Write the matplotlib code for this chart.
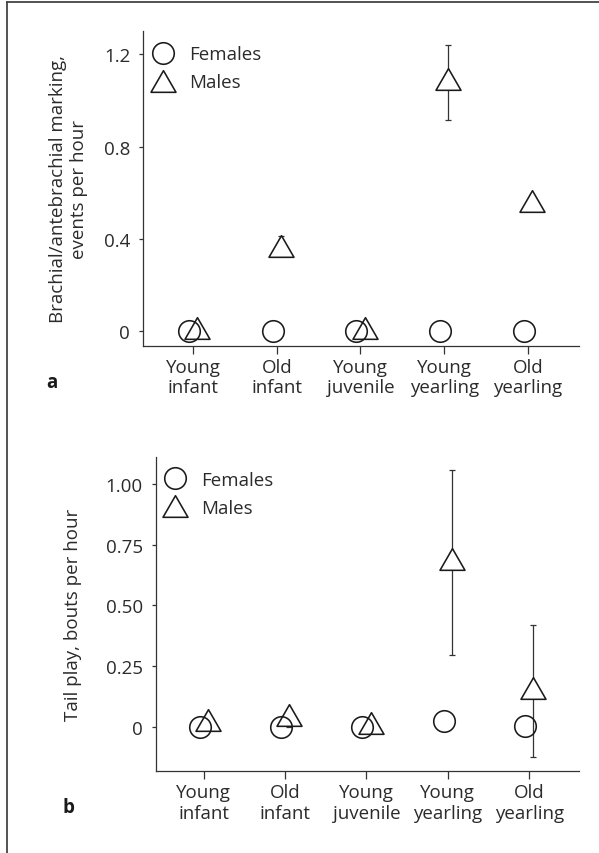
import matplotlib
matplotlib.use("Agg")
import matplotlib.pyplot as plt
from matplotlib.path import Path
from matplotlib.lines import Line2D

plt.rcParams['font.family'] = ['Open Sans', 'DejaVu Sans']
plt.rcParams['font.size'] = 13.5
plt.rcParams['text.color'] = '#2b2b2b'
plt.rcParams['axes.labelcolor'] = '#2b2b2b'
plt.rcParams['xtick.color'] = '#333333'
plt.rcParams['ytick.color'] = '#333333'
plt.rcParams['xtick.labelcolor'] = '#2b2b2b'
plt.rcParams['ytick.labelcolor'] = '#2b2b2b'

# data
groups = ['Young\ninfant', 'Old\ninfant', 'Young\njuvenile', 'Young\nyearling', 'Old\nyearling']

# panel a: brachial/antebrachial marking
a_females = [0, 0, 0, 0, 0]
a_males = [0.016, 0.372, 0.016, 1.092, 0.565]
a_males_lo = [0, 0.045, 0, 0.177, 0]
a_males_hi = [0, 0.04, 0, 0.147, 0]

# panel b: tail play
b_females = [0, 0, 0, 0.026, 0.005]
b_males = [0.027, 0.051, 0.016, 0.690, 0.161]
b_males_lo = [0, 0.05, 0, 0.392, 0.286]
b_males_hi = [0, 0, 0, 0.366, 0.260]

a_yticks = [0, 0.4, 0.8, 1.2]
a_yticklabels = ['0', '0.4', '0.8', '1.2']
b_yticks = [0, 0.25, 0.5, 0.75, 1.0]
b_yticklabels = ['0', '0.25', '0.50', '0.75', '1.00']

W, H = 599, 854
fig = plt.figure(figsize=(W / 100, H / 100), dpi=100)

# equilateral triangle marker
tri = Path([(-1, -0.866), (1, -0.866), (0, 0.866), (-1, -0.866)],
           [Path.MOVETO, Path.LINETO, Path.LINETO, Path.CLOSEPOLY])

ink = '#1a1a1a'


def panel(rect, fem, mal, lo, hi, yticks, yticklabels, ylim, xlim, ylabel, ylabel_x, leg_x):
    ax = fig.add_axes(rect)
    x = list(range(len(groups)))
    xf = [i - 0.05 for i in x]
    xm = [i + 0.05 for i in x]
    ax.errorbar(xm, mal, yerr=[lo, hi], fmt='none', ecolor='#333333',
                elinewidth=0.9, capsize=2.2, capthick=0.9, zorder=2)
    ax.plot(xm, mal, linestyle='none', marker=tri, markersize=18,
            markerfacecolor='white', markeredgecolor=ink, markeredgewidth=1.15,
            zorder=3, label='Males')
    ax.plot(xf, fem, linestyle='none', marker='o', markersize=15.5,
            markerfacecolor='none', markeredgecolor=ink, markeredgewidth=1.15,
            zorder=4, label='Females')
    ax.set_xlim(*xlim)
    ax.set_ylim(*ylim)
    ax.set_xticks(x)
    ax.set_xticklabels(groups, linespacing=1.2)
    ax.set_yticks(yticks)
    ax.set_yticklabels(yticklabels)
    for s in ['top', 'right']:
        ax.spines[s].set_visible(False)
    for s in ['left', 'bottom']:
        ax.spines[s].set_color('#333333')
        ax.spines[s].set_linewidth(0.9)
    ax.tick_params(axis='x', length=5.5, width=0.9, pad=3)
    ax.tick_params(axis='y', length=3.2, width=0.9, pad=6)
    ax.set_ylabel(ylabel, linespacing=1.2)
    ax.yaxis.set_label_coords(ylabel_x, 0.5)
    h, l = ax.get_legend_handles_labels()
    ax.legend(h[::-1], l[::-1], loc='upper left', bbox_to_anchor=(leg_x, 0.956),
              frameon=False, borderpad=0, borderaxespad=0, handlelength=1.2,
              handletextpad=0.8, labelspacing=0.55, numpoints=1)
    return ax


# panel a
ax1 = panel([143 / W, 1 - 346.7 / H, 436 / W, 314.4 / H],
            a_females, a_males, a_males_lo, a_males_hi,
            a_yticks, a_yticklabels, (-0.062, 1.30), (-0.597, 4.61),
            'Brachial/antebrachial marking,\nevents per hour', -0.126, 0.020)

# panel b
ax2 = panel([155.5 / W, 1 - 772.3 / H, 423.5 / W, 314.6 / H],
            b_females, b_males, b_males_lo, b_males_hi,
            b_yticks, b_yticklabels, (-0.182, 1.112), (-0.592, 4.612),
            'Tail play, bouts per hour', -0.174, 0.020)

fig.text(52 / W, 1 - 383 / H, 'a', fontweight='bold', ha='center', va='center', color='#1a1a1a')
fig.text(69 / W, 1 - 808 / H, 'b', fontweight='bold', ha='center', va='center', color='#1a1a1a')

# figure frame (top and left only)
fig.add_artist(Line2D([7 / W, 1], [1 - 3 / H, 1 - 3 / H], color='#444444', linewidth=1.3,
                      transform=fig.transFigure))
fig.add_artist(Line2D([7 / W, 7 / W], [1 - 3 / H, 0], color='#444444', linewidth=1.3,
                      transform=fig.transFigure))

fig.savefig('out.png', dpi=100)
